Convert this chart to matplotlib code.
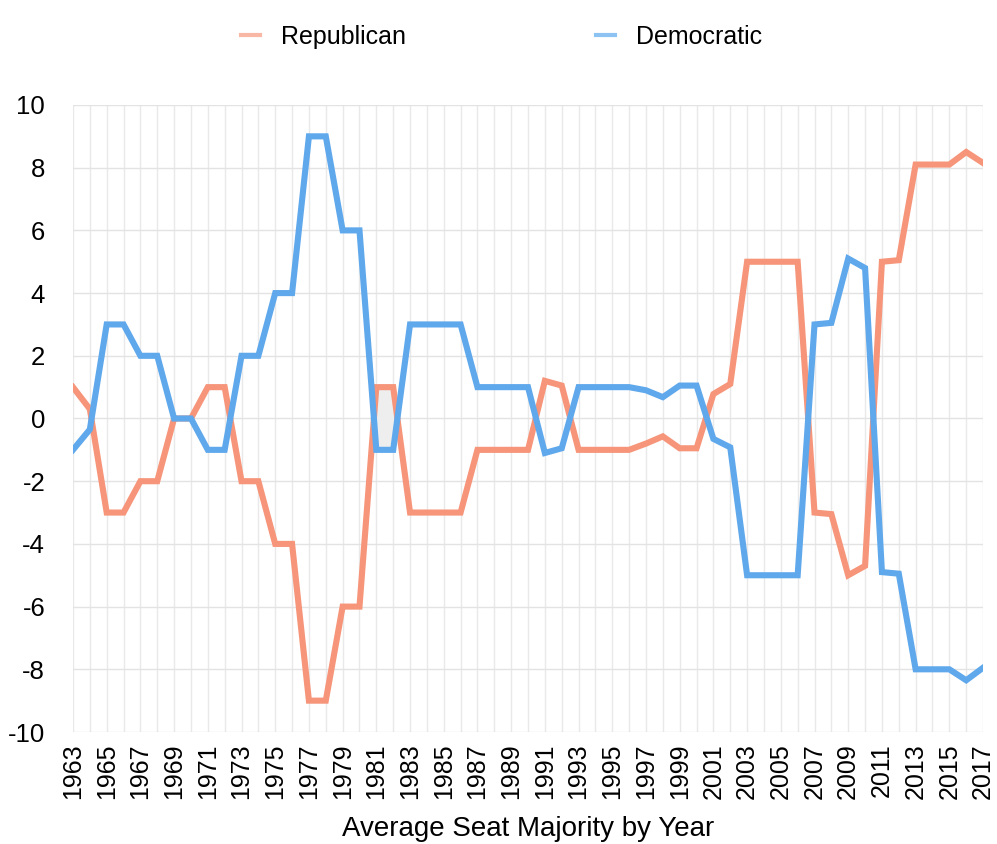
import matplotlib
matplotlib.use("Agg")
import matplotlib.pyplot as plt
import numpy as np
from matplotlib.lines import Line2D

years = list(range(1963, 2018))
republican = [1.0, 0.3, -3, -3, -2, -2, 0, 0, 1, 1,
              -2, -2, -4, -4, -9, -9, -6, -6, 1, 1,
              -3, -3, -3, -3, -1, -1, -1, -1, 1.2, 1.05,
              -1, -1, -1, -1, -0.8, -0.57, -0.95, -0.95, 0.78, 1.1,
              5, 5, 5, 5, -3, -3.05, -5, -4.7, 5, 5.05,
              8.1, 8.1, 8.1, 8.5, 8.15]
democratic = [-1.0, -0.35, 3, 3, 2, 2, 0, 0, -1, -1,
              2, 2, 4, 4, 9, 9, 6, 6, -1, -1,
              3, 3, 3, 3, 1, 1, 1, 1, -1.1, -0.95,
              1, 1, 1, 1, 0.9, 0.68, 1.05, 1.05, -0.65, -0.92,
              -5, -5, -5, -5, 3, 3.05, 5.1, 4.8, -4.9, -4.95,
              -8, -8, -8, -8.35, -7.95]
highlight_years = [1981, 1982]
series_names = ["Republican", "Democratic"]
x_label = "Average Seat Majority by Year"

plt.rcParams['font.family'] = ['Liberation Sans', 'DejaVu Sans']
plt.rcParams['axes.unicode_minus'] = False

fig = plt.figure(figsize=(9.97, 8.44), dpi=100)
ax = fig.add_axes([0.0732, 0.1327, 0.9128, 0.7429])

yrs = np.array(years)
rep = np.array(republican)
dem = np.array(democratic)
mask = np.isin(yrs, highlight_years)
ax.fill_between(yrs, rep, dem, where=mask, color='#eeeeee', zorder=1, interpolate=False)

orange = '#f6957a'
blue = '#5fa8ec'
ax.plot(yrs, rep, color=orange, lw=4.4, solid_joinstyle='miter', zorder=3)
ax.plot(yrs, dem, color=blue, lw=4.4, solid_joinstyle='miter', zorder=3)

ax.set_xlim(years[0], years[-1])
ax.set_ylim(-10, 10)
ax.set_yticks(np.arange(-10, 11, 2))
ax.set_xticks(years[::2])
ax.set_xticks(years, minor=True)
ax.set_xticklabels([str(y) for y in years[::2]], rotation=90)
ax.tick_params(axis='both', length=0, which='both')
ax.tick_params(axis='y', pad=20, labelsize=18.5)
ax.tick_params(axis='x', pad=8, labelsize=18)

ax.grid(True, which='major', axis='y', color='#e3e3e3', lw=1.0, zorder=0)
ax.grid(True, which='both', axis='x', color='#e9e9e9', lw=1.0, zorder=0)
for s in ax.spines.values():
    s.set_visible(False)
ax.set_axisbelow(True)

ax.set_xlabel(x_label, fontsize=20, labelpad=12)

handles = [Line2D([], [], color='#f9b8a6', lw=3), Line2D([], [], color='#8cc3f3', lw=3)]
fig.legend(handles, series_names, loc='upper center', bbox_to_anchor=(0.503, 0.997),
           ncol=2, frameon=False, fontsize=18, handlelength=0.75, handletextpad=0.85,
           columnspacing=7.6)

fig.savefig("out.png", dpi=100)
